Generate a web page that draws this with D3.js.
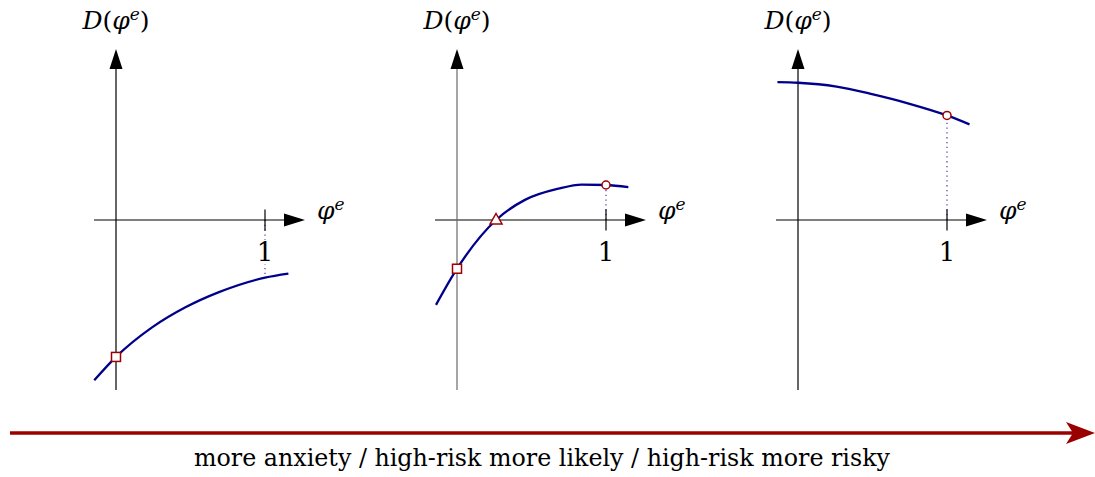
<!DOCTYPE html>
<html>
<head>
<meta charset="utf-8">
<script src="https://cdn.jsdelivr.net/npm/d3@7"></script>
<style>
  body { margin: 0; background: white; }
  text { font-family: "DejaVu Serif", "Liberation Serif", serif; }
</style>
</head>
<body>
<div id="chart-div"></div>
<script>
// curve samples (x in units of the "1" tick, y same unit)
const curve1X = [-0.146, 0, 0.242, 0.466, 0.691, 1.0, 1.157];
const curve1Y = [-1.076, -0.919, -0.721, -0.586, -0.484, -0.387, -0.360];
const curve2X = [-0.141, 0, 0.262, 0.456, 0.680, 0.837, 1.0, 1.150];
const curve2Y = [-0.570, -0.327, 0, 0.135, 0.210, 0.238, 0.235, 0.220];
const curve3X = [-0.138, 0, 0.259, 0.482, 0.749, 1.0, 1.151];
const curve3Y = [0.925, 0.921, 0.895, 0.848, 0.780, 0.702, 0.642];

// markers: which panel, where
const squares   = [{panel: 0, x: 0, y: -0.919}, {panel: 1, x: 0, y: -0.327}];
const triangles = [{panel: 1, x: 0.262, y: 0}];
const circles   = [{panel: 1, x: 1, y: 0.235}, {panel: 2, x: 1, y: 0.702}];
// dotted lines from the tick at 1 to the curve
const dropLines = [{panel: 0, y: -0.387}, {panel: 1, y: 0.235}, {panel: 2, y: 0.702}];

const xTicks = [1];
const yLabel = "D";
const xLabel = "φ";
const bottomLabel = "more anxiety / high-risk more likely / high-risk more risky";

const width = 1095, height = 477;
const blue = "#00008c", red = "#9b0000";

const svg = d3.select("#chart-div")
  .append("svg")
  .attr("width", width)
  .attr("height", height)
  .attr("style", "background-color: white");

// one pair of scales per panel
const unit = 149;
const originY = 220;
const panelX = [116, 457, 798];
const xs = panelX.map(ox => d3.scaleLinear().domain([0, 1]).range([ox, ox + unit]));
const y = d3.scaleLinear().domain([0, 1]).range([originY, originY - unit]);

const curves = [
  curve1X.map((v, i) => [v, curve1Y[i]]),
  curve2X.map((v, i) => [v, curve2Y[i]]),
  curve3X.map((v, i) => [v, curve3Y[i]])
];

panelX.forEach((ox, p) => {
  const x = xs[p];
  const g = svg.append("g");

  // dotted line first so the tick label can sit over it
  dropLines.filter(d => d.panel == p).forEach(d => {
    g.append("line")
      .attr("x1", x(1)).attr("x2", x(1))
      .attr("y1", y(0)).attr("y2", y(d.y))
      .attr("stroke", "#2828a0")
      .attr("stroke-width", 1.1)
      .attr("stroke-dasharray", "1.3,3.5");
  });

  // x axis with arrow head
  g.append("line")
    .attr("x1", ox - 22).attr("x2", ox + 170)
    .attr("y1", originY).attr("y2", originY)
    .attr("stroke", "black").attr("stroke-width", 1.2);
  g.append("path")
    .attr("d", `M${ox + 189},${originY} L${ox + 168},${originY - 6.5} L${ox + 168},${originY + 6.5} Z`)
    .attr("fill", "black");

  // y axis with arrow head
  g.append("line")
    .attr("x1", ox).attr("x2", ox)
    .attr("y1", 390).attr("y2", 67)
    .attr("stroke", p == 1 ? "#6a6a6a" : "black").attr("stroke-width", 1.2);
  g.append("path")
    .attr("d", `M${ox},49 L${ox - 6.5},69 L${ox + 6.5},69 Z`)
    .attr("fill", "black");

  // tick at 1
  xTicks.forEach(t => {
    g.append("line")
      .attr("x1", x(t)).attr("x2", x(t))
      .attr("y1", originY - 10.5).attr("y2", originY + 10.5)
      .attr("stroke", "black").attr("stroke-width", 1.2);
    g.append("rect")
      .attr("x", x(t) - 9).attr("y", 240)
      .attr("width", 18).attr("height", 24)
      .attr("fill", "white");
    g.append("text")
      .attr("x", x(t)).attr("y", 261)
      .attr("text-anchor", "middle")
      .attr("font-size", 26)
      .text(t);
  });

  // axis labels
  const yl = g.append("text")
    .attr("x", ox).attr("y", 29)
    .attr("text-anchor", "middle")
    .attr("font-size", 25);
  yl.append("tspan").attr("font-style", "italic").text(yLabel);
  yl.append("tspan").text("(");
  yl.append("tspan").attr("font-style", "italic").text(xLabel);
  yl.append("tspan").attr("font-style", "italic").attr("font-size", 17).attr("dy", -9).text("e");
  yl.append("tspan").attr("dy", 9).text(")");

  const xl = g.append("text")
    .attr("x", ox + 201).attr("y", 219)
    .attr("font-size", 25)
    .attr("font-style", "italic");
  xl.append("tspan").text(xLabel);
  xl.append("tspan").attr("font-size", 17).attr("dy", -9).text("e");

  // the curve
  const line = d3.line()
    .x(d => x(d[0]))
    .y(d => y(d[1]))
    .curve(d3.curveMonotoneX);
  g.append("path")
    .datum(curves[p])
    .attr("fill", "none")
    .attr("stroke", blue)
    .attr("stroke-width", 2.3)
    .attr("d", line);

  // markers
  g.selectAll(".sq")
    .data(squares.filter(d => d.panel == p))
    .join("rect")
    .attr("x", d => x(d.x) - 4.5).attr("y", d => y(d.y) - 4.5)
    .attr("width", 9).attr("height", 9)
    .attr("fill", "white").attr("stroke", red).attr("stroke-width", 1.5);

  g.selectAll(".tri")
    .data(triangles.filter(d => d.panel == p))
    .join("path")
    .attr("d", d => {
      const cx = x(d.x), cy = y(d.y);
      return `M${cx},${cy - 6.5} L${cx + 6},${cy + 4} L${cx - 6},${cy + 4} Z`;
    })
    .attr("fill", "white").attr("stroke", red).attr("stroke-width", 1.5);

  g.selectAll(".circ")
    .data(circles.filter(d => d.panel == p))
    .join("circle")
    .attr("cx", d => x(d.x)).attr("cy", d => y(d.y))
    .attr("r", 4)
    .attr("fill", "white").attr("stroke", red).attr("stroke-width", 1.5);
});

// long red arrow along the bottom
svg.append("line")
  .attr("x1", 10).attr("x2", 1075)
  .attr("y1", 433).attr("y2", 433)
  .attr("stroke", red).attr("stroke-width", 3.5);
svg.append("path")
  .attr("d", "M1095,433 L1066,422 L1073,433 L1066,444 Z")
  .attr("fill", red);

svg.append("text")
  .attr("x", 194).attr("y", 466)
  .attr("font-family", "Liberation Serif")
  .attr("font-size", 25)
  .attr("textLength", 696)
  .attr("lengthAdjust", "spacingAndGlyphs")
  .text(bottomLabel);
</script>
</body>
</html>
